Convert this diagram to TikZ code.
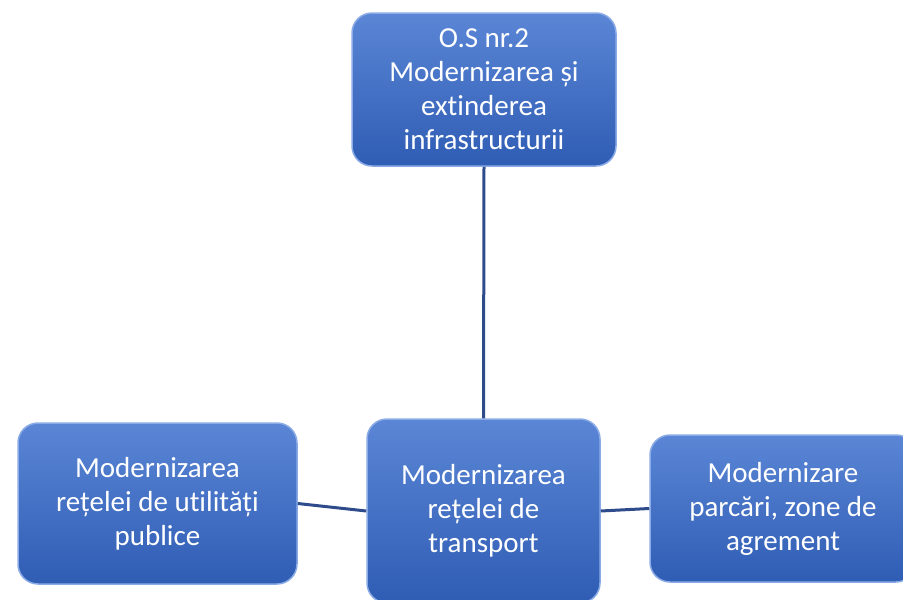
\documentclass[tikz,border=0pt]{standalone}
\usepackage{fontspec}
\setmainfont{Carlito}[Ligatures=NoCommon]
\usetikzlibrary{positioning}
\definecolor{BoxTop}{HTML}{5B86D6}
\definecolor{BoxBot}{HTML}{2F5DB4}
\definecolor{BoxEdge}{HTML}{8AABE6}
\definecolor{LinkBlue}{HTML}{2E4C8C}
\begin{document}
\begin{tikzpicture}[
  x=1pt, y=-1pt,
  goalbox/.style={draw=BoxEdge, line width=1.5pt, top color=BoxTop, bottom color=BoxBot, rounded corners=20pt, inner sep=0pt, align=center, text=white, font=\fontsize{29}{34}\selectfont},
  link/.style={draw=LinkBlue, line width=3pt}
]
\useasboundingbox (0,0) rectangle (903,600);
\clip (0,0) rectangle (903,600);
\node[goalbox, minimum width=264pt, minimum height=153pt] (obj) at (484,89.5) {O.S nr.2\\Modernizarea și\\extinderea\\infrastructurii};
\node[goalbox, minimum width=233pt, minimum height=184pt] (retea) at (483.5,511) {Modernizarea\\rețelei de\\transport};
\node[goalbox, minimum width=279pt, minimum height=161pt] (utilitati) at (157.5,503.5) {Modernizarea\\rețelei de utilități\\publice};
\node[goalbox, minimum width=266pt, minimum height=147pt] (parcari) at (783,508.5) {Modernizare\\parcări, zone de\\agrement};
\draw[link] (obj.south) -- (retea.north);
\draw[link] (utilitati.east) -- (retea.west);
\draw[link] (retea.east) -- (parcari.west);
\end{tikzpicture}
\end{document}
